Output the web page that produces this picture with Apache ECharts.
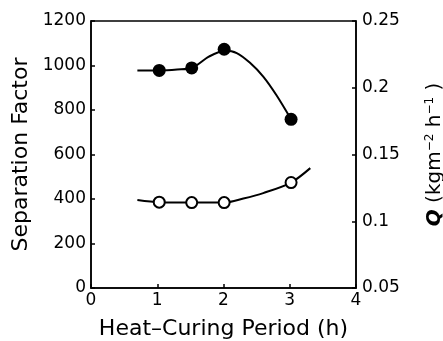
<!DOCTYPE html>
<html>
<head>
<meta charset="utf-8">
<script src="https://cdn.jsdelivr.net/npm/echarts@6/dist/echarts.min.js"></script>
<style>
  html, body { margin: 0; padding: 0; background: #fff; }
  #chart { width: 443px; height: 341px; }
</style>
</head>
<body>
<div id="chart"></div>
<script>
// Measured points
var periodH = [1.03, 1.52, 2.01, 3.02];
var separationFactor = [978, 989, 1073, 758];
var fluxQ = [0.1143, 0.1140, 0.1140, 0.1290];

// Hand-drawn fitted curves
var sfCurveX = [0.70, 1.03, 1.30, 1.53, 1.78, 2.02, 2.20, 2.40, 2.60, 2.80, 3.02];
var sfCurveY = [978, 978, 982, 990, 1040, 1066, 1056, 1012, 950, 866, 758];
var qCurveX = [0.70, 1.03, 1.52, 2.01, 2.30, 2.60, 3.02, 3.31];
var qCurveY = [0.1160, 0.1143, 0.1140, 0.1140, 0.1170, 0.1211, 0.1290, 0.1398];

var xTicks = [0, 1, 2, 3, 4];
var sfTicks = [0, 200, 400, 600, 800, 1000, 1200];
var qTicks = [0.05, 0.1, 0.15, 0.2, 0.25];

function pairs(xs, ys) { return xs.map(function (x, i) { return [x, ys[i]]; }); }

var FONT = 'DejaVu Sans';
var chart = echarts.init(document.getElementById('chart'), null, { renderer: 'canvas' });
chart.setOption({
  animation: false,
  backgroundColor: '#fff',
  textStyle: { fontFamily: FONT, color: '#000' },
  grid: { left: 91, right: 87, top: 21, bottom: 53, containLabel: false, outerBoundsMode: 'none',
    show: true, borderColor: '#000', borderWidth: 1.5, backgroundColor: 'transparent' },
  xAxis: {
    type: 'value', min: xTicks[0], max: xTicks[xTicks.length - 1], interval: 1,
    name: 'Heat\u2013Curing Period (h)', nameLocation: 'middle', nameGap: 30,
    nameTextStyle: { fontFamily: FONT, fontSize: 22, color: '#000' },
    axisLine: { show: true, onZero: false, lineStyle: { color: '#000', width: 1.5 } },
    axisTick: { show: true, inside: true, length: 4, lineStyle: { color: '#000', width: 1.5 } },
    axisLabel: { fontFamily: FONT, fontSize: 17, color: '#000', margin: 4,
      formatter: function (v) { return String(v); } },
    splitLine: { show: false }
  },
  yAxis: [{
    type: 'value', position: 'left', min: sfTicks[0], max: sfTicks[sfTicks.length - 1], interval: 200,
    name: 'Separation Factor', nameLocation: 'middle', nameGap: 58,
    nameTextStyle: { fontFamily: FONT, fontSize: 22, color: '#000' },
    axisLine: { show: true, onZero: false, lineStyle: { color: '#000', width: 1.5 } },
    axisTick: { show: true, inside: true, length: 4, lineStyle: { color: '#000', width: 1.5 } },
    axisLabel: { fontFamily: FONT, fontSize: 17, color: '#000', margin: 5,
      formatter: function (v) { return String(v); } },
    splitLine: { show: false }
  }, {
    type: 'value', position: 'right', min: qTicks[0], max: qTicks[qTicks.length - 1], interval: 0.05,
    name: '{q|Q}{n| (kgm}{s|\u22122}{n| h}{s|\u22121}{n| )}', nameLocation: 'middle', nameGap: 68, nameRotate: 90,
    nameTextStyle: {
      fontFamily: FONT, fontSize: 20, color: '#000',
      rich: {
        q: { fontFamily: FONT, fontSize: 20, fontWeight: 'bold', fontStyle: 'italic', color: '#000' },
        n: { fontFamily: FONT, fontSize: 20, color: '#000' },
        s: { fontFamily: FONT, fontSize: 12, color: '#000', verticalAlign: 'top', padding: [0, 0, 10, 0] }
      }
    },
    axisLine: { show: true, onZero: false, lineStyle: { color: '#000', width: 1.5 } },
    axisTick: { show: true, inside: true, length: 4, lineStyle: { color: '#000', width: 1.5 } },
    axisLabel: { fontFamily: FONT, fontSize: 17, color: '#000', margin: 6,
      formatter: function (v) { return String(+v.toFixed(2)); } },
    splitLine: { show: false }
  }],
  series: [
    { type: 'line', yAxisIndex: 0, data: pairs(sfCurveX, sfCurveY), smooth: 0.3, showSymbol: false,
      lineStyle: { color: '#000', width: 2 }, z: 2 },
    { type: 'line', yAxisIndex: 1, data: pairs(qCurveX, qCurveY), smooth: 0.3, showSymbol: false,
      lineStyle: { color: '#000', width: 2 }, z: 2 },
    { type: 'scatter', yAxisIndex: 0, data: pairs(periodH, separationFactor), symbol: 'circle', symbolSize: 13,
      itemStyle: { color: '#000', opacity: 1 }, z: 5 },
    { type: 'scatter', yAxisIndex: 1, data: pairs(periodH, fluxQ), symbol: 'circle', symbolSize: 11,
      itemStyle: { color: '#fff', borderColor: '#000', borderWidth: 2, opacity: 1 }, z: 5 }
  ]
});
</script>
</body>
</html>
